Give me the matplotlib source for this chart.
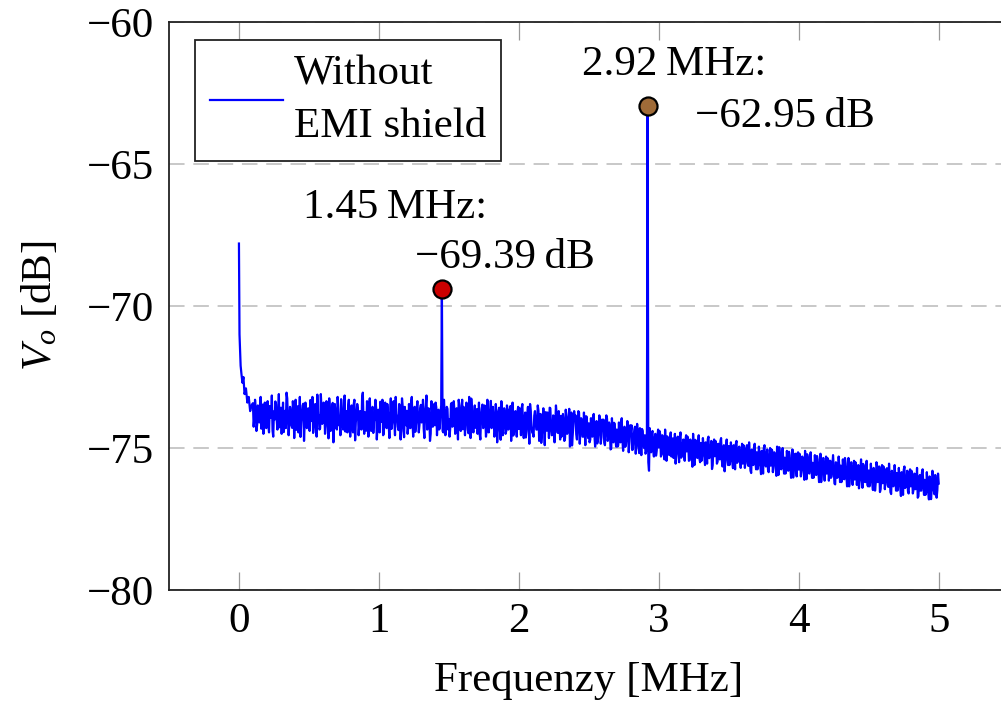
"""Output spectrum without EMI shield, with the two interference lines marked."""
import matplotlib
matplotlib.use("Agg")
import matplotlib.pyplot as plt
import numpy as np

plt.rcParams["font.family"] = ["Liberation Serif", "DejaVu Serif"]
plt.rcParams["mathtext.fontset"] = "custom"
plt.rcParams["mathtext.rm"] = "Liberation Serif"
plt.rcParams["mathtext.it"] = "Liberation Serif:italic"

FS = 31

# steep start near DC (MHz, dB)
head_freq = [0.0, 0.004, 0.008, 0.012, 0.018, 0.025, 0.032, 0.04, 0.05, 0.06, 0.07, 0.08, 0.09]
head_level = [-67.8, -71.0, -71.6, -72.1, -72.4, -72.7, -72.5, -73.1, -72.9, -73.4, -73.2, -73.7, -73.5]

# noise floor, bins at 0.10, 0.11, ... 5.00 MHz (one row = 100 kHz)
floor_start, floor_step = 0.10, 0.01
floor_level = [
    -73.42, -73.95, -73.61, -74.18, -73.55, -73.88, -74.32, -73.47, -73.79, -74.05,
    -73.66, -74.21, -73.52, -73.94, -74.38, -73.71, -73.36, -74.02, -73.85, -74.27,
    -73.58, -73.91, -74.44, -73.69, -73.05, -73.98, -74.13, -73.74, -74.29, -73.62,
    -73.87, -74.36, -73.53, -73.99, -74.61, -73.78, -73.44, -74.09, -73.67, -74.22,
    -73.81, -73.31, -74.05, -74.47, -73.72, -73.95, -73.12, -73.88, -74.31, -73.64,
    -74.01, -73.57, -74.25, -73.83, -74.66, -73.69, -73.92, -73.41, -74.14, -73.76,
    -74.35, -73.63, -73.97, -73.28, -74.11, -73.84, -74.42, -73.70, -73.53, -74.06,
    -73.89, -74.28, -73.46, -74.73, -73.80, -73.60, -74.17, -73.93, -73.22, -74.01,
    -73.74, -74.39, -73.86, -73.50, -74.12, -73.68, -74.47, -73.96, -73.58, -74.24,
    -73.79, -73.37, -74.08, -74.55, -73.72, -73.99, -73.45, -74.21, -73.83, -74.33,
    -73.61, -74.04, -73.20, -73.91, -74.37, -73.76, -74.15, -73.53, -74.62, -73.87,
    -73.69, -74.26, -73.94, -73.39, -74.09, -73.81, -74.43, -73.60, -73.97, -74.18,
    -73.48, -74.00, -74.31, -73.73, -73.15, -74.12, -73.89, -74.50, -73.66, -73.93,
    -74.20, -73.57, -74.03, -74.35, -73.78, -74.30, -74.45, -73.84, -74.11, -73.62,
    -73.98, -74.27, -73.41, -74.06, -73.75, -74.40, -73.88, -73.30, -74.14, -73.70,
    -74.34, -73.82, -74.01, -73.55, -74.48, -73.92, -73.26, -74.17, -73.79, -74.29,
    -73.63, -74.08, -74.52, -73.86, -73.47, -74.20, -73.95, -74.38, -73.71, -74.03,
    -73.34, -74.15, -73.90, -74.46, -73.77, -74.25, -73.58, -74.71, -73.98, -74.11,
    -73.82, -74.40, -73.67, -74.19, -73.52, -74.07, -74.56, -73.88, -74.24, -73.73,
    -74.33, -73.95, -73.60, -74.28, -74.02, -74.63, -73.79, -74.14, -73.45, -74.21,
    -74.48, -73.86, -74.09, -74.35, -73.69, -74.26, -74.82, -73.98, -74.17, -73.74,
    -74.39, -74.02, -73.58, -74.31, -74.54, -73.91, -74.23, -73.81, -74.47, -74.12,
    -73.87, -74.44, -74.06, -74.65, -73.96, -74.28, -73.62, -74.36, -74.91, -74.15,
    -73.99, -74.52, -74.20, -73.75, -74.41, -74.08, -74.60, -74.27, -73.88, -74.46,
    -74.13, -74.71, -74.32, -73.90, -74.55, -74.19, -74.84, -74.36, -74.05, -74.62,
    -74.24, -74.80, -74.38, -73.97, -74.59, -74.30, -75.02, -74.47, -74.11, -74.66,
    -74.35, -74.90, -74.52, -74.12, -74.73, -74.40, -74.96, -74.58, -74.21, -74.77,
    -74.42, -75.07, -74.63, -74.25, -74.86, -74.50, -75.18, -74.70, -74.33, -74.90,
    -74.55, -75.12, -74.80, -75.80, -74.83, -74.47, -75.06, -74.71, -75.27, -74.60,
    -74.98, -74.52, -75.21, -74.76, -75.40, -74.88, -74.59, -75.13, -74.72, -75.30,
    -74.66, -75.08, -75.55, -74.83, -75.17, -74.62, -75.34, -74.95, -75.20, -74.74,
    -75.12, -74.78, -75.43, -74.93, -75.66, -75.02, -74.71, -75.28, -74.89, -75.37,
    -74.82, -75.25, -74.98, -75.60, -75.10, -74.68, -75.36, -75.05, -75.74, -74.93,
    -75.29, -74.87, -75.48, -75.08, -74.75, -75.41, -75.16, -75.82, -74.99, -75.34,
    -74.93, -75.44, -75.12, -75.71, -75.26, -74.86, -75.52, -75.03, -75.38, -75.18,
    -75.55, -75.02, -75.39, -74.90, -75.63, -75.21, -75.88, -75.33, -75.08, -75.47,
    -75.15, -75.60, -75.27, -75.92, -75.41, -75.01, -75.54, -75.22, -75.76, -75.35,
    -75.62, -75.09, -75.50, -75.31, -75.98, -75.42, -74.97, -75.68, -75.25, -75.57,
    -75.34, -75.79, -75.46, -75.13, -75.70, -75.55, -76.04, -75.38, -75.64, -75.20,
    -75.76, -75.32, -75.68, -75.49, -76.12, -75.58, -75.22, -75.85, -75.44, -75.71,
    -75.52, -75.95, -75.63, -75.28, -75.84, -75.70, -76.20, -75.46, -75.77, -75.58,
    -75.90, -75.41, -75.81, -76.05, -75.60, -75.73, -76.28, -75.55, -75.98, -75.69,
    -75.62, -76.08, -75.78, -75.35, -75.96, -75.83, -76.35, -75.67, -76.01, -75.74,
    -76.11, -75.70, -75.95, -76.42, -75.81, -76.07, -75.56, -76.19, -75.88, -76.30,
    -75.79, -76.16, -75.93, -76.48, -75.85, -76.22, -75.64, -76.05, -76.55, -75.90,
    -76.24, -75.83, -76.12, -75.71, -76.37, -76.02, -76.62, -75.94, -76.29, -76.06,
    -75.88, -76.31, -76.10, -76.69, -76.20, -75.77, -76.41, -76.14, -76.52, -75.97,
    -76.35, -76.04, -76.47, -75.92, -76.28, -76.75, -76.18, -76.50, -75.86, -76.33,
    -76.12, -76.58, -76.27, -76.81, -76.20, -76.44, -75.98, -76.63, -76.37, -76.49,
    -76.25,
]

# in-between bins at 0.105, 0.115, ... 4.995 MHz
mid_level = [
    -74.25, -73.30, -74.40, -73.50, -74.10, -73.20, -73.95, -74.50, -73.40, -74.30,
    -73.35, -74.45, -73.85, -73.15, -74.60, -74.00, -73.45, -74.35, -73.10, -73.90,
    -74.50, -73.40, -73.70, -74.30, -73.25, -74.55, -73.55, -74.20, -73.35, -74.65,
    -73.30, -73.95, -74.45, -73.20, -74.10, -73.50, -74.75, -73.40, -74.30, -73.60,
    -74.40, -73.55, -73.20, -74.25, -73.45, -74.60, -73.80, -74.35, -73.10, -74.15,
    -73.40, -74.50, -73.35, -74.05, -73.25, -74.40, -73.60, -74.80, -73.45, -74.30,
    -73.20, -74.20, -74.55, -73.60, -74.35, -73.15, -73.90, -74.45, -73.30, -74.60,
    -73.50, -74.45, -73.30, -74.10, -73.45, -74.55, -73.70, -74.35, -73.05, -74.50,
    -74.20, -73.35, -74.60, -73.25, -74.40, -73.55, -74.05, -73.30, -74.70, -73.65,
    -74.45, -73.60, -73.30, -74.50, -73.40, -74.30, -73.75, -74.65, -73.25, -74.10,
    -73.35, -74.55, -73.80, -74.25, -73.45, -74.70, -73.25, -74.40, -73.55, -74.20,
    -74.50, -73.45, -74.30, -73.20, -74.60, -73.55, -74.15, -73.35, -74.45, -73.60,
    -74.10, -73.30, -74.65, -73.50, -74.35, -73.60, -74.75, -73.35, -74.25, -73.45,
    -73.40, -74.55, -73.65, -74.30, -73.50, -74.40, -73.30, -74.55, -73.55, -74.35,
    -74.60, -73.45, -74.25, -73.35, -74.50, -73.60, -74.70, -73.50, -74.40, -73.30,
    -73.55, -74.55, -73.40, -74.35, -73.20, -74.65, -73.70, -74.45, -73.50, -74.25,
    -74.50, -73.40, -74.70, -73.60, -74.30, -73.50, -74.60, -73.30, -74.45, -73.65,
    -74.30, -73.55, -74.60, -73.45, -74.80, -73.70, -74.40, -73.35, -74.55, -73.60,
    -74.50, -73.50, -74.35, -73.65, -74.75, -73.40, -74.45, -73.70, -74.60, -73.55,
    -73.60, -74.55, -73.45, -74.65, -73.75, -74.40, -73.55, -74.85, -73.70, -74.45,
    -74.60, -73.70, -74.35, -73.50, -74.75, -73.80, -74.50, -73.60, -74.90, -73.75,
    -73.75, -74.65, -73.60, -74.55, -73.85, -74.80, -73.50, -74.45, -73.70, -74.70,
    -74.60, -73.80, -74.75, -73.65, -74.50, -73.90, -74.95, -73.75, -74.55, -73.70,
    -73.85, -74.70, -73.70, -74.85, -73.95, -74.60, -73.75, -74.90, -73.90, -74.65,
    -74.80, -73.95, -74.60, -73.80, -74.95, -74.05, -74.70, -73.85, -74.85, -74.00,
    -74.00, -74.90, -73.85, -74.75, -74.10, -75.05, -73.95, -74.80, -74.15, -74.95,
    -74.95, -74.10, -74.80, -73.95, -75.10, -74.25, -74.90, -74.05, -75.15, -74.20,
    -74.20, -75.05, -74.35, -75.20, -74.15, -74.95, -74.30, -75.25, -74.40, -75.00,
    -75.20, -74.45, -75.50, -74.30, -75.15, -74.40, -75.30, -74.50, -75.10, -74.35,
    -74.40, -75.30, -74.55, -75.20, -74.35, -75.45, -74.65, -75.25, -74.45, -75.15,
    -75.35, -74.50, -75.20, -74.60, -75.50, -74.45, -75.25, -74.70, -75.45, -74.55,
    -74.60, -75.45, -74.70, -75.30, -74.50, -75.60, -74.75, -75.35, -74.55, -75.50,
    -75.45, -74.65, -75.35, -74.80, -75.55, -74.60, -75.30, -74.75, -75.60, -74.70,
    -74.75, -75.55, -74.85, -75.40, -74.65, -75.65, -74.90, -75.50, -74.70, -75.60,
    -75.60, -74.80, -75.50, -74.90, -75.75, -74.75, -75.45, -74.95, -75.70, -74.85,
    -74.90, -75.70, -75.00, -75.55, -74.80, -75.80, -75.05, -75.60, -74.85, -75.75,
    -75.75, -74.95, -75.60, -75.10, -75.90, -74.90, -75.65, -75.05, -75.85, -75.00,
    -75.05, -75.85, -75.15, -75.70, -74.95, -75.95, -75.20, -75.75, -75.00, -75.90,
    -75.90, -75.10, -75.80, -75.25, -76.05, -75.05, -75.75, -75.20, -76.00, -75.15,
    -75.20, -76.00, -75.30, -75.85, -75.10, -76.10, -75.35, -75.90, -75.15, -76.05,
    -76.05, -75.25, -75.95, -75.40, -76.20, -75.20, -75.90, -75.35, -76.15, -75.30,
    -75.35, -76.15, -75.45, -76.00, -75.25, -76.25, -75.50, -76.05, -75.30, -76.20,
    -76.20, -75.40, -76.10, -75.55, -76.35, -75.35, -76.05, -75.50, -76.30, -75.45,
    -75.50, -76.30, -75.60, -76.15, -75.40, -76.40, -75.65, -76.20, -75.45, -76.35,
    -76.35, -75.55, -76.25, -75.70, -76.50, -75.50, -76.20, -75.65, -76.45, -75.60,
    -75.65, -76.45, -75.75, -76.30, -75.55, -76.55, -75.80, -76.35, -75.60, -76.50,
    -76.50, -75.70, -76.40, -75.85, -76.65, -75.65, -76.35, -75.80, -76.60, -75.75,
    -75.80, -76.60, -75.90, -76.45, -75.70, -76.70, -75.95, -76.50, -75.75, -76.65,
    -76.65, -75.85, -76.55, -76.00, -76.80, -75.80, -76.50, -75.95, -76.75, -75.90,
]

# interference lines
peak_freq = [1.45, 2.92]
peak_level = [-69.39, -62.95]
peak_color = ["#CC0000", "#9F6B38"]

floor_freq = floor_start + floor_step * np.arange(len(floor_level))
level_floor = np.array(floor_level)
for f, v in zip(peak_freq, peak_level):
    level_floor[int(round((f - floor_start) / floor_step))] = v
mid_freq = floor_start + floor_step * (np.arange(len(mid_level)) + 0.5)

freq = np.concatenate([head_freq, floor_freq, mid_freq])
level = np.concatenate([head_level, level_floor, mid_level])
order = np.argsort(freq, kind="stable")
freq, level = freq[order], level[order]

fig = plt.figure(figsize=(10.01, 7.04), dpi=100)
ax = fig.add_axes([0.1688, 0.1619, 0.8389, 0.8068])

ax.plot(freq, level, color="#0000FF", lw=1.6, label="Without\nEMI shield", zorder=3)
for f, v, c in zip(peak_freq, peak_level, peak_color):
    ax.plot(f, v, "o", ms=13, mfc=c, mec="black", mew=1.6, zorder=4)

# annotation offsets in points relative to each peak marker
ann = [((-100, 51), (-19, 15)), ((-47, 22), (34, -15.5))]
for (f, v), (o1, o2) in zip(zip(peak_freq, peak_level), ann):
    ax.annotate(f"{f:.2f}\u2009MHz:", (f, v), xytext=o1, textcoords="offset points",
                ha="left", va="baseline", fontsize=FS)
    ax.annotate(f"\u2212{abs(v):.2f}\u2009dB", (f, v), xytext=o2, textcoords="offset points",
                ha="left", va="baseline", fontsize=FS)

ax.set_xlim(-0.5, 5.5)
ax.set_ylim(-80, -60)
ax.set_xticks(range(0, 6))
ax.set_yticks([-80, -75, -70, -65, -60])
ax.tick_params(axis="x", direction="in", length=13, width=0.9, color="#999999",
               top=True, labelsize=FS, pad=9)
ax.tick_params(axis="y", length=0, labelsize=FS, pad=11)
ax.yaxis.grid(True, color="#C8C8C8", lw=1.4, ls=(0, (8, 4.5)))
ax.set_axisbelow(True)
for s in ax.spines.values():
    s.set_linewidth(1.3)
    s.set_color("#222222")

ax.set_xlabel("Frequenzy [MHz]", fontsize=FS)
ax.set_ylabel(r"$V_o$ [dB]", fontsize=FS)
ax.xaxis.set_label_coords(0.5, -0.125)
ax.yaxis.set_label_coords(-0.13, 0.5)

leg = ax.legend(loc="upper left", bbox_to_anchor=(0.031, 0.968), borderaxespad=0,
                fontsize=FS, fancybox=False, framealpha=1, edgecolor="#222222",
                handlelength=1.7, handletextpad=0.25, borderpad=0.35)
leg.get_frame().set_linewidth(1.3)
for t in leg.get_texts():
    t.set_linespacing(1.45)

fig.savefig("out.png", dpi=100)
